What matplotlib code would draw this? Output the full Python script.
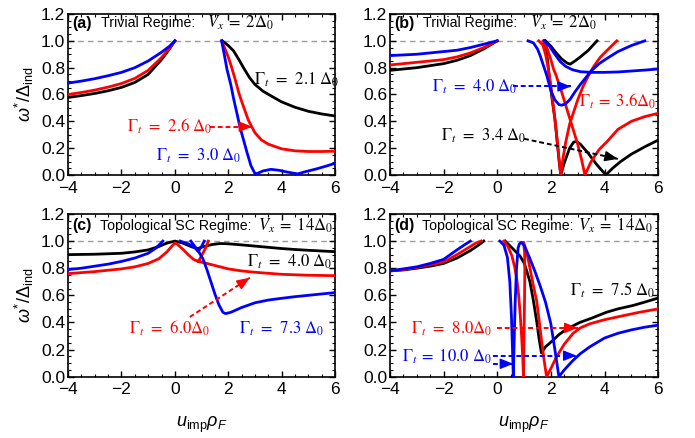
import numpy as np
import matplotlib
matplotlib.use("Agg")
import matplotlib.pyplot as plt
from matplotlib.ticker import MultipleLocator

nan = np.nan

plt.rcParams['font.family'] = ['Liberation Sans', 'DejaVu Sans']
plt.rcParams['mathtext.fontset'] = 'custom'
plt.rcParams['mathtext.rm'] = 'Liberation Sans'
plt.rcParams['mathtext.it'] = 'Liberation Sans:italic'
plt.rcParams['mathtext.bf'] = 'Liberation Sans:bold'

BLACK = '#000000'
RED = '#ff0000'
BLUE = '#0000ff'

# ---- panel (a): trivial regime, Vx = 2 Delta0 ----
a_black_x = [-4, -3.5, -3, -2.5, -2, -1.5, -1, -0.5, -0.2, 0, nan,
             1.78, 2.0, 2.2, 2.4, 2.6, 2.8, 3.0, 3.3, 3.6, 4.0, 4.5, 5.0, 5.5, 6.0]
a_black_y = [0.578, 0.592, 0.608, 0.628, 0.653, 0.69, 0.75, 0.86, 0.94, 1.0, nan,
             1.0, 0.965, 0.925, 0.86, 0.79, 0.725, 0.675, 0.625, 0.59, 0.545, 0.505, 0.475, 0.455, 0.44]
a_red_x = [-4, -3.5, -3, -2.5, -2, -1.5, -1, -0.5, -0.2, 0, nan,
           1.75, 1.9, 2.0, 2.1, 2.25, 2.4, 2.5, 2.75, 3.0, 3.25, 3.5, 4.0, 4.5, 5.0, 5.5, 6.0]
a_red_y = [0.60, 0.615, 0.633, 0.655, 0.682, 0.72, 0.78, 0.875, 0.945, 1.0, nan,
           1.0, 0.93, 0.88, 0.82, 0.72, 0.61, 0.55, 0.41, 0.315, 0.26, 0.23, 0.195, 0.18, 0.175, 0.175, 0.177]
a_blue_x = [-4, -3.5, -3, -2.5, -2, -1.5, -1, -0.5, -0.2, 0, nan,
            1.75, 1.85, 1.95, 2.1, 2.2, 2.45, 2.7, 2.85, 3.0, 3.1, 3.3, 3.6, 3.9, 4.2, 4.6, 4.9, 5.3, 5.7, 6.0]
a_blue_y = [0.685, 0.70, 0.718, 0.74, 0.765, 0.80, 0.85, 0.915, 0.96, 1.0, nan,
            1.0, 0.90, 0.79, 0.67, 0.57, 0.35, 0.17, 0.07, 0.01, 0.012, 0.03, 0.042, 0.035, 0.022, 0.008, 0.025, 0.045, 0.068, 0.087]

# ---- panel (b): trivial regime, Vx = 2 Delta0 ----
b_black_x = [-4, -3, -2, -1.5, -1, -0.5, 0, nan,
             1.75, 1.85, 1.95, 2.05, 2.15, 2.25, 2.32, 2.37, 2.5, 2.7, 2.85, 2.95, 3.1, 3.4, 3.7, 4.05,
             4.3, 4.6, 5.0, 5.5, 6.0, nan,
             1.8, 2.0, 2.2, 2.4, 2.6, 2.72, 2.9, 3.1, 3.4, 3.72]
b_black_y = [0.78, 0.80, 0.83, 0.855, 0.89, 0.94, 1.0, nan,
             1.0, 0.9, 0.72, 0.56, 0.42, 0.22, 0.08, 0.0, 0.09, 0.2, 0.245, 0.25, 0.23, 0.16, 0.08, 0.0,
             0.05, 0.1, 0.155, 0.21, 0.26, nan,
             1.0, 0.96, 0.91, 0.865, 0.835, 0.826, 0.85, 0.88, 0.93, 1.0]
b_red_x = [-4, -3, -2, -1.5, -1, -0.5, 0, nan,
           1.55, 1.7, 1.8, 1.9, 2.0, 2.1, 2.2, 2.3, 2.37, 2.45, 2.55, 2.7, 2.85, 3.0, 3.2, 3.4,
           3.6, 3.85, 4.1, 4.3, 4.46, nan,
           1.72, 1.85, 2.0, 2.1, 2.2, 2.4, 2.6, 2.8, 3.0, 3.15, 3.27, 3.5, 3.8, 4.1, 4.5, 5.0, 5.5, 6.0]
b_red_y = [0.82, 0.84, 0.86, 0.88, 0.91, 0.95, 1.0, nan,
           1.0, 0.97, 0.9, 0.8, 0.66, 0.5, 0.33, 0.13, 0.0, 0.12, 0.24, 0.38, 0.47, 0.56, 0.66, 0.74,
           0.81, 0.88, 0.93, 0.97, 1.0, nan,
           1.0, 0.95, 0.86, 0.79, 0.74, 0.62, 0.49, 0.36, 0.23, 0.11, 0.0, 0.1, 0.19, 0.25, 0.34, 0.40, 0.435, 0.46]
b_blue_x = [-4, -3, -2, -1.5, -1, -0.5, 0, nan,
            1.15, 1.35, 1.5, 1.6, 1.75, 1.85, 2.0, 2.15, 2.3, 2.4, 2.55, 2.72, 2.9, 3.1, 3.3, 3.5,
            3.8, 4.1, 4.5, 5.0, 5.5, nan,
            1.75, 1.95, 2.15, 2.35, 2.55, 2.8, 3.1, 3.5, 4.0, 4.5, 5.0, 5.5, 6.0]
b_blue_y = [0.89, 0.90, 0.92, 0.93, 0.95, 0.975, 1.0, nan,
            1.0, 0.985, 0.94, 0.89, 0.8, 0.74, 0.63, 0.56, 0.525, 0.52, 0.53, 0.565, 0.62, 0.675, 0.725, 0.775,
            0.83, 0.87, 0.92, 0.965, 1.0, nan,
            1.0, 0.96, 0.9, 0.845, 0.81, 0.785, 0.77, 0.765, 0.765, 0.768, 0.775, 0.782, 0.79]

# ---- panel (c): topological SC regime, Vx = 14 Delta0 ----
c_black_x = [-4, -3, -2, -1.5, -1, -0.6, -0.3, 0, 0.3, 0.6, 0.85, 1.1, 1.4, 1.7, 2.0,
             2.5, 3.0, 3.5, 4.0, 4.5, 5.0, 5.5, 6.0]
c_black_y = [0.90, 0.903, 0.91, 0.92, 0.935, 0.96, 0.985, 1.0, 0.985, 0.96, 0.945, 0.96, 0.975, 0.982, 0.98,
             0.972, 0.963, 0.954, 0.945, 0.938, 0.932, 0.927, 0.922]
c_red_x = [-4, -3, -2, -1.5, -1, -0.6, -0.3, -0.1, 0, 0.1, 0.3, 0.5, 0.7, 0.88, 1.05, 1.18, 1.25, nan,
           0.88, 1.1, 1.3, 1.6, 2.0, 2.5, 3.0, 4.0, 5.0, 6.0]
c_red_y = [0.76, 0.775, 0.795, 0.81, 0.835, 0.87, 0.92, 0.965, 0.985, 0.975, 0.94, 0.9, 0.865, 0.85, 0.91, 0.96, 1.0, nan,
           0.85, 0.84, 0.83, 0.815, 0.795, 0.78, 0.77, 0.755, 0.748, 0.745]
c_blue_x = [-4, -3.5, -3, -2.5, -2, -1.5, -1, -0.7, -0.45, nan,
            0.2, 0.5, 0.75, 0.9, 1.05, 1.2, 1.35, 1.5, 1.65, 1.8, 1.9, 2.1, 2.5, 3.0, 3.5, 4.0,
            4.5, 5.0, 5.5, 6.0, nan,
            0.6, 0.75, 0.88, 1.0, 1.1]
c_blue_y = [0.79, 0.80, 0.815, 0.83, 0.85, 0.875, 0.91, 0.95, 1.0, nan,
            1.0, 0.98, 0.95, 0.92, 0.87, 0.79, 0.7, 0.61, 0.53, 0.475, 0.465, 0.475, 0.51, 0.545, 0.565, 0.578,
            0.59, 0.60, 0.61, 0.62, nan,
            1.0, 0.96, 0.925, 0.96, 1.0]

# ---- panel (d): topological SC regime, Vx = 14 Delta0 ----
d_black_x = [-4, -3.5, -3, -2.5, -2, -1.5, -1, -0.7, -0.5, nan,
             0.3, 0.5, 0.7, 0.85, 1.0, 1.1, 1.22, 1.35, 1.47, 1.56, 1.65, 1.8, 2.09, 2.3, 2.58,
             3.08, 3.5, 4.07, 4.5, 5.06, 5.5, 6.0]
d_black_y = [0.78, 0.787, 0.80, 0.815, 0.835, 0.875, 0.93, 0.97, 1.0, nan,
             1.0, 0.96, 0.92, 0.89, 0.84, 0.78, 0.70, 0.56, 0.41, 0.28, 0.175, 0.22, 0.27, 0.31, 0.35,
             0.40, 0.43, 0.475, 0.50, 0.525, 0.55, 0.58]
d_red_x = [-4, -3.5, -3, -2.5, -2, -1.5, -1, -0.8, -0.6, nan,
           0.25, 0.4, 0.55, 0.65, 0.73, 0.8, 0.86, 0.91, 0.95, 0.98, 1.0, 1.02, 1.03, 1.02, 0.98, nan,
           1.0, 1.1, 1.22, 1.35, 1.47, 1.56, 1.65, 1.75, 1.84, 2.0, 2.21, 2.5, 2.83, 3.1, 3.45,
           4.0, 4.7, 5.3, 6.0]
d_red_y = [0.78, 0.79, 0.805, 0.825, 0.845, 0.9, 0.96, 0.985, 1.0, nan,
           1.0, 0.96, 0.89, 0.81, 0.72, 0.6, 0.45, 0.3, 0.15, 0.0, 0.3, 0.6, 0.8, 0.92, 0.99, nan,
           0.98, 0.92, 0.8, 0.67, 0.56, 0.42, 0.27, 0.12, 0.0, 0.06, 0.146, 0.24, 0.32, 0.36, 0.39,
           0.42, 0.45, 0.475, 0.50]
d_blue_x = [-4, -3.5, -3, -2.5, -2, -1.5, -1.2, -1.0, nan,
            0.1, 0.25, 0.38, 0.47, 0.53, 0.57, 0.6, 0.63, 0.67, 0.72, 0.78, 0.83, 0.9, 1.0,
            1.2, 1.4, 1.6, 1.8, 2.0, 2.15, 2.3, 2.5, 2.8, 3.1, 3.45, 4.0, 4.5, 5.0, 5.5, 6.0]
d_blue_y = [0.78, 0.795, 0.81, 0.835, 0.865, 0.935, 0.975, 1.0, nan,
            1.0, 0.97, 0.88, 0.7, 0.45, 0.2, 0.0, 0.25, 0.55, 0.8, 0.95, 0.98, 0.99, 0.97,
            0.88, 0.78, 0.67, 0.55, 0.39, 0.2, 0.0, 0.05, 0.115, 0.17, 0.22, 0.285, 0.32, 0.345, 0.365, 0.38]

panels = [
    ('a', [0.098, 0.6005, 0.384, 0.3675], a_black_x, a_black_y, a_red_x, a_red_y, a_blue_x, a_blue_y),
    ('b', [0.561, 0.6005, 0.386, 0.3675], b_black_x, b_black_y, b_red_x, b_red_y, b_blue_x, b_blue_y),
    ('c', [0.098, 0.140, 0.384, 0.3715], c_black_x, c_black_y, c_red_x, c_red_y, c_blue_x, c_blue_y),
    ('d', [0.561, 0.140, 0.386, 0.3715], d_black_x, d_black_y, d_red_x, d_red_y, d_blue_x, d_blue_y),
]

fig = plt.figure(figsize=(6.95, 4.38), dpi=100)
axes = {}
for name, rect, kx, ky, rx, ry, bx, by in panels:
    ax = fig.add_axes(rect)
    ax.axhline(1.0, color='#9a9a9a', lw=1.0, ls=(0, (4, 3)), zorder=1)
    ax.plot(kx, ky, color=BLACK, lw=2.0, zorder=3)
    ax.plot(rx, ry, color=RED, lw=2.0, zorder=3)
    ax.plot(bx, by, color=BLUE, lw=2.0, zorder=3)
    ax.set_xlim(-4, 6)
    ax.set_ylim(0, 1.2)
    ax.xaxis.set_major_locator(MultipleLocator(2))
    ax.xaxis.set_minor_locator(MultipleLocator(0.5))
    ax.yaxis.set_major_locator(MultipleLocator(0.2))
    ax.yaxis.set_minor_locator(MultipleLocator(0.05))
    ax.yaxis.set_major_formatter(plt.FuncFormatter(lambda v, p: '%.1f' % v))
    ax.xaxis.set_major_formatter(plt.FuncFormatter(lambda v, p: ('%d' % round(v)).replace('-', '\u2212')))
    ax.tick_params(which='both', direction='in', top=True, right=True, labelsize=12.5)
    ax.tick_params(axis='x', pad=4)
    ax.tick_params(axis='y', pad=2)
    ax.tick_params(which='major', length=4, width=1.0)
    ax.tick_params(which='minor', length=2, width=0.8)
    for s in ax.spines.values():
        s.set_linewidth(1.2)
    axes[name] = ax

for name in ['a', 'c']:
    axes[name].set_ylabel(r'$\omega^{*}/\Delta_{\mathrm{ind}}$', fontsize=13, labelpad=4)
for name in ['c', 'd']:
    axes[name].set_xlabel(r'$u_{\mathrm{imp}}\rho_F$', fontsize=13, labelpad=13)

# panel headers
headers = {
    'a': ('Trivial Regime:', 0.124, r'$V_x\;=\;2\Delta_0$', 0.52, 0.944),
    'b': ('Trivial Regime:', 0.123, r'$V_x\;=\;2\Delta_0$', 0.524, 0.944),
    'c': ('Topological SC Regime:', 0.12, r'$V_x\;=\;14\Delta_0$', 0.712, 0.928),
    'd': ('Topological SC Regime:', 0.118, r'$V_x\;=\;14\Delta_0$', 0.702, 0.928),
}
for name, (txt, tx, vtxt, vx, ty) in headers.items():
    ax = axes[name]
    ax.text(0.015, ty, '(%s)' % name, transform=ax.transAxes, fontsize=11.5,
            fontweight='bold', va='center', ha='left')
    ax.text(tx, ty, txt, transform=ax.transAxes, fontsize=10.2, va='center', ha='left')
    ax.text(vx, ty, vtxt, transform=ax.transAxes, fontsize=12, va='center', ha='left',
            math_fontfamily='stix')


def label(ax, x, y, s, color):
    ax.text(x, y, s, color=color, fontsize=12, va='center', ha='left',
            math_fontfamily='stix', zorder=5)


def arrow(ax, x0, y0, x1, y1, color):
    ax.plot([x0, x1], [y0, y1], color=color, lw=1.4, ls=(0, (2.5, 1.5)), zorder=4)
    ax.annotate('', xy=(x1, y1), xytext=(x0 + 0.95 * (x1 - x0), y0 + 0.95 * (y1 - y0)),
                arrowprops=dict(arrowstyle='-|>,head_length=0.8,head_width=0.32',
                                color=color, lw=1.0, shrinkA=0, shrinkB=0), zorder=4)


ax = axes['a']
label(ax, 2.95, 0.71, r'$\Gamma_t\;\,=\;\,2.1\ \Delta_0$', BLACK)
label(ax, -1.8, 0.36, r'$\Gamma_t\;\,=\;\,2.6\ \Delta_0$', RED)
label(ax, -0.7, 0.14, r'$\Gamma_t\;\,=\;\,3.0\ \Delta_0$', BLUE)
arrow(ax, 1.3, 0.36, 2.9, 0.36, RED)

ax = axes['b']
label(ax, -2.43, 0.66, r'$\Gamma_t\;\,=\;\,4.0\ \Delta_0$', BLUE)
label(ax, 3.05, 0.55, r'$\Gamma_t\;=\;3.6\Delta_0$', RED)
label(ax, -2.1, 0.29, r'$\Gamma_t\;\,=\;\,3.4\ \Delta_0$', BLACK)
arrow(ax, 0.6, 0.66, 2.75, 0.66, BLUE)
arrow(ax, 1.0, 0.27, 4.5, 0.12, BLACK)

ax = axes['c']
label(ax, 2.7, 0.846, r'$\Gamma_t\;\,=\;\,4.0\ \Delta_0$', BLACK)
label(ax, -1.7, 0.355, r'$\Gamma_t\;\,=\;\,6.0\Delta_0$', RED)
label(ax, 2.4, 0.355, r'$\Gamma_t\;\,=\;\,7.3\ \Delta_0$', BLUE)
arrow(ax, 0.56, 0.44, 2.81, 0.73, RED)

ax = axes['d']
label(ax, 2.7, 0.64, r'$\Gamma_t\;\,=\;\,7.5\ \Delta_0$', BLACK)
label(ax, -3.2, 0.354, r'$\Gamma_t\;\,=\;\,8.0\Delta_0$', RED)
label(ax, -3.55, 0.146, r'$\Gamma_t\;=\;10.0\ \Delta_0$', BLUE)
arrow(ax, 0.0, 0.36, 3.0, 0.36, RED)
arrow(ax, -0.15, 0.155, 2.96, 0.155, BLUE)
arrow(ax, -0.15, 0.095, 0.6, 0.095, BLUE)

fig.savefig('out.png', dpi=100)
